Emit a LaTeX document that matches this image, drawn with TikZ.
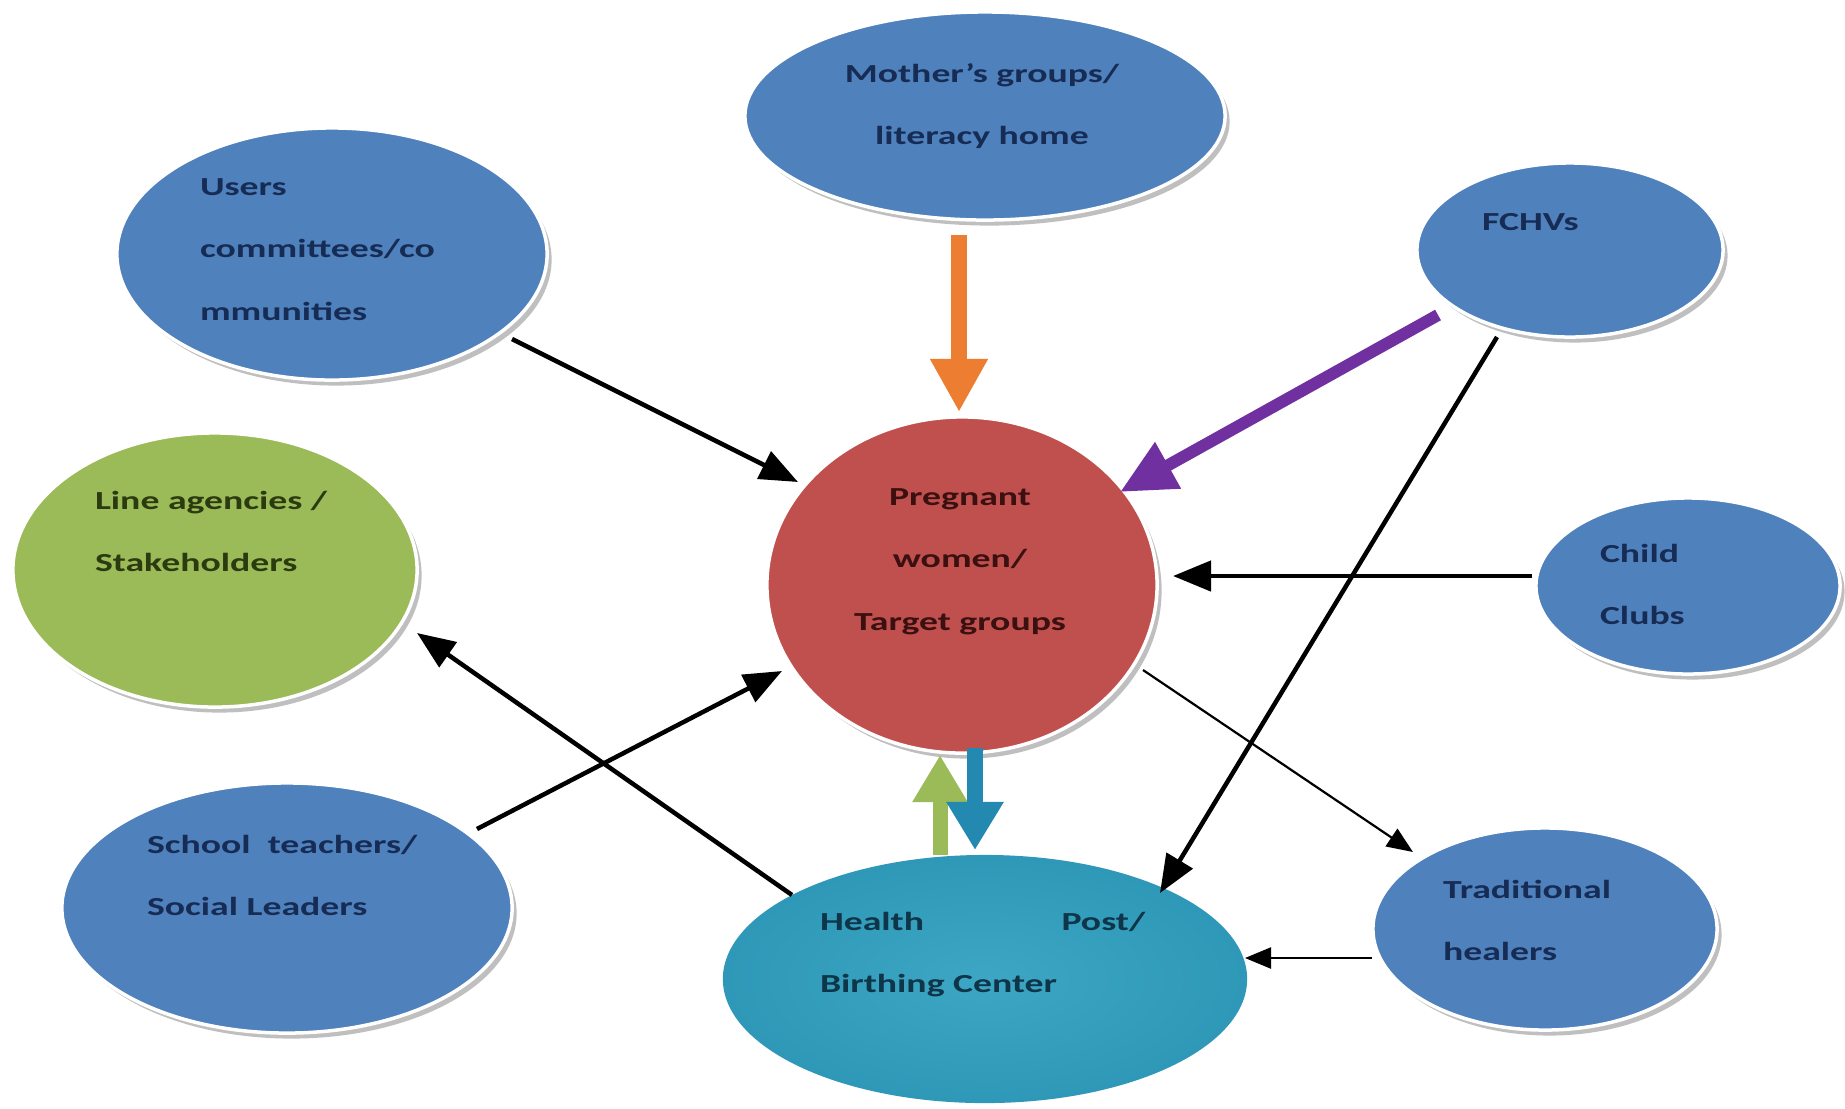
\documentclass[tikz,border=0pt]{standalone}
\usepackage{fontspec}
\setmainfont[FakeStretch=1.45]{Carlito}
\usetikzlibrary{arrows.meta,shadows,calc,shapes.geometric}
\definecolor{ofblue}{HTML}{4F81BD}
\definecolor{ofred}{HTML}{C0504D}
\definecolor{ofgreen}{HTML}{9BBB59}
\definecolor{oforange}{HTML}{ED7D31}
\definecolor{ofpurple}{HTML}{7030A0}
\definecolor{tealarr}{HTML}{2389B0}
\definecolor{tealL}{HTML}{3CA6C4}
\definecolor{tealM}{HTML}{2A93B3}
\definecolor{tealRing}{HTML}{2285A5}
\definecolor{tealM2}{HTML}{268EAE}
\definecolor{tealD}{HTML}{1B7FA0}
\definecolor{navytxt}{HTML}{172C55}
\definecolor{olivetxt}{HTML}{2C3A10}
\definecolor{maroontxt}{HTML}{3A1010}
\definecolor{tealtxt}{HTML}{0E3548}
\pgfdeclareradialshading{tealrad}{\pgfpoint{0bp}{0bp}}{color(0bp)=(tealL); color(34bp)=(tealM); color(37bp)=(tealRing); color(40bp)=(tealM2); color(50bp)=(tealD); color(100bp)=(tealD)}
\tikzset{
  bubble/.style={ellipse, draw=white, line width=0.035cm, inner sep=0, outer sep=0,
    drop shadow={shadow xshift=0.045cm, shadow yshift=-0.055cm, opacity=0.55, fill=black!45}},
  txt/.style={inner sep=0, outer sep=0, font=\bfseries\fontsize{7.4}{17.9}\selectfont},
  blk/.style={draw=black, line width=0.045cm, -{Triangle[length=0.38cm,width=0.30cm]}},
  thinarr/.style={draw=black, line width=0.022cm, -{Triangle[length=0.26cm,width=0.21cm]}},
  orangearr/.style={draw=oforange, line width=0.16cm, -{Triangle[length=0.53cm,width=0.54cm]}},
  purplearr/.style={draw=ofpurple, line width=0.12cm, -{Triangle[length=0.55cm,width=0.50cm]}},
  greenarr/.style={draw=ofgreen, line width=0.15cm, -{Triangle[length=0.47cm,width=0.52cm]}},
  tealarrow/.style={draw=tealarr, line width=0.16cm, -{Triangle[length=0.48cm,width=0.54cm]}},
}
\begin{document}
\begin{tikzpicture}[x=0.01cm, y=-0.01cm]
\useasboundingbox (0,0) rectangle (1845,1108);
\fill[white] (0,0) rectangle (1845,1108);

% bubbles
\node[bubble, fill=ofblue, minimum width=4.8cm, minimum height=2.08cm] (mother) at (985,116) {};
\node[bubble, fill=ofblue, minimum width=4.3cm, minimum height=2.52cm] (users) at (332,254) {};
\node[bubble, fill=ofgreen, minimum width=4.04cm, minimum height=2.74cm] (lineag) at (215,570) {};
\node[bubble, fill=ofred, minimum width=3.9cm, minimum height=3.36cm] (preg) at (962,585) {};
\node[ellipse, shading=tealrad, draw=none, inner sep=0, outer sep=0, minimum width=5.24cm, minimum height=2.48cm] (health) at (985,979) {};
\node[bubble, fill=ofblue, minimum width=3.06cm, minimum height=1.74cm] (fchv) at (1570,250) {};
\node[bubble, fill=ofblue, minimum width=3.04cm, minimum height=1.76cm] (child) at (1688,586) {};
\node[bubble, fill=ofblue, minimum width=3.44cm, minimum height=2.02cm] (trad) at (1545,929) {};
\node[bubble, fill=ofblue, minimum width=4.5cm, minimum height=2.5cm] (school) at (287,908) {};

% texts
\node[txt, text=navytxt, anchor=base] (mother-t) at (982,82) {\begin{tabular}[t]{@{}c@{}}Mother's groups/\\literacy home\end{tabular}};
\node[txt, text=navytxt, anchor=base west] (users-t) at (200,195) {\begin{tabular}[t]{@{}l@{}}Users\\committees/co\\mmunities\end{tabular}};
\node[txt, text=olivetxt, anchor=base west] (lineag-t) at (95,509) {\begin{tabular}[t]{@{}l@{}}Line agencies /\\Stakeholders\end{tabular}};
\node[txt, text=maroontxt, anchor=base] (preg-t) at (960,505) {\begin{tabular}[t]{@{}c@{}}Pregnant\\women/\\Target groups\end{tabular}};
\node[txt, text=tealtxt, anchor=base west] (health-t) at (820,930) {\begin{tabular}[t]{@{}l@{}}\makebox[3.25cm][l]{Health\hfill Post/}\\Birthing Center\end{tabular}};
\node[txt, text=navytxt, anchor=base west] (fchv-t) at (1482,230) {FCHVs};
\node[txt, text=navytxt, anchor=base west] (child-t) at (1600,562) {\begin{tabular}[t]{@{}l@{}}Child\\Clubs\end{tabular}};
\node[txt, text=navytxt, anchor=base west] (trad-t) at (1443,898) {\begin{tabular}[t]{@{}l@{}}Traditional\\healers\end{tabular}};
\node[txt, text=navytxt, anchor=base west] (school-t) at (147,853) {\begin{tabular}[t]{@{}l@{}}School~ teachers/\\Social Leaders\end{tabular}};

% connectors
\draw[orangearr] ($(mother)+(-26,119)$) -- ($(preg)+(-3,-173)$);
\draw[blk] ($(users)+(180,85)$) -- ($(preg)+(-164,-103)$);
\draw[purplearr] ($(fchv)+(-132,65)$) -- ($(preg)+(158,-93)$);
\draw[blk] ($(child)+(-156,-10)$) -- ($(preg)+(211,-9)$);
\draw[blk] ($(fchv)+(-73,87)$) -- ($(health)+(175,-86)$);
\draw[thinarr] ($(preg)+(181,85)$) -- ($(trad)+(-132,-77)$);
\draw[thinarr] ($(trad)+(-173,29)$) -- ($(health)+(260,-21)$);
\draw[blk] ($(health)+(-193,-84)$) -- ($(lineag)+(202,63)$);
\draw[blk] ($(school)+(190,-79)$) -- ($(preg)+(-180,86)$);
\draw[greenarr] ($(health)+(-45,-124)$) -- ($(preg)+(-22,170)$);
\draw[tealarrow] ($(preg)+(13,163)$) -- ($(health)+(-10,-129)$);
\end{tikzpicture}
\end{document}
